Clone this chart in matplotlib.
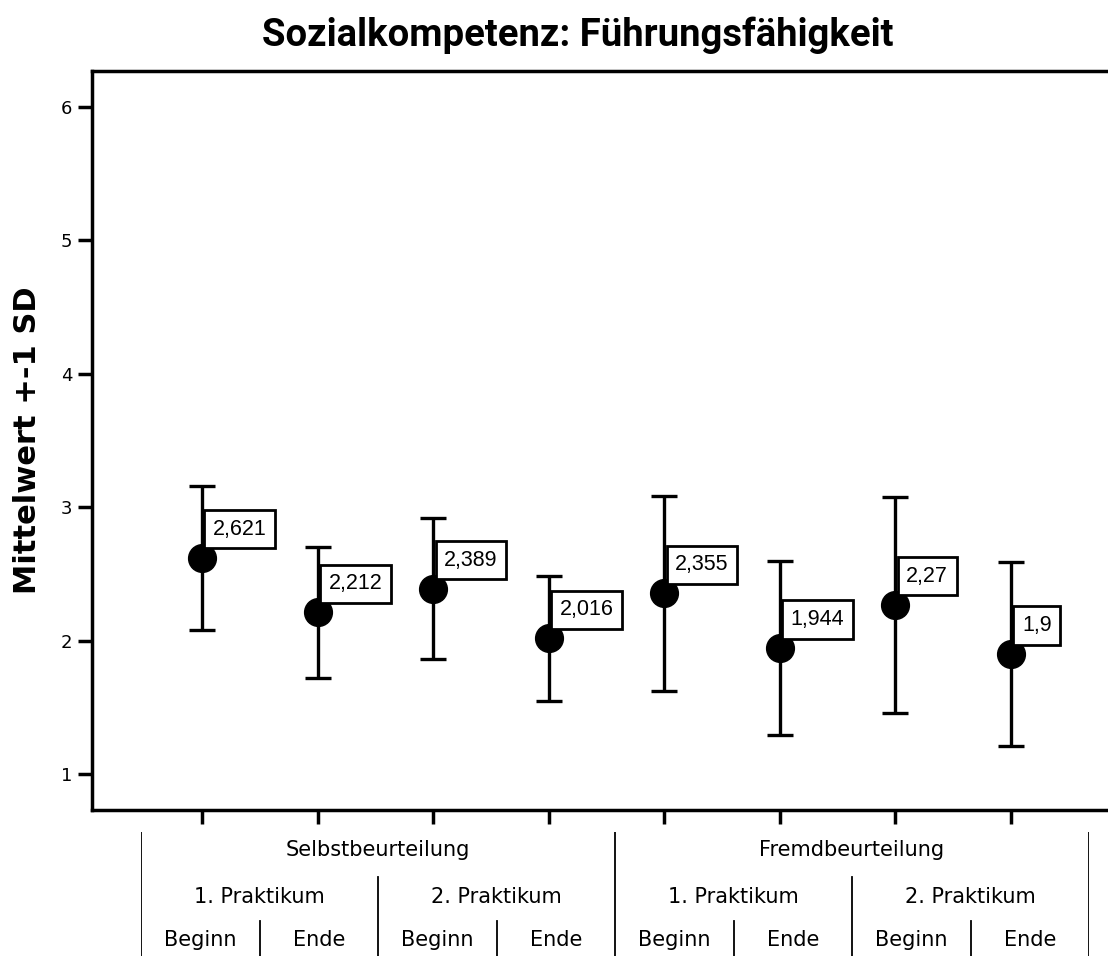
import matplotlib
matplotlib.use('Agg')
import matplotlib.pyplot as plt
import numpy as np

# data
means = [2.621, 2.212, 2.389, 2.016, 2.355, 1.944, 2.27, 1.9]
sds = [0.54, 0.49, 0.53, 0.47, 0.73, 0.65, 0.81, 0.69]
mean_labels = ['2,621', '2,212', '2,389', '2,016', '2,355', '1,944', '2,27', '1,9']
raters = ['Selbstbeurteilung', 'Fremdbeurteilung']
phases = ['1. Praktikum', '2. Praktikum']
times = ['Beginn', 'Ende']
yticks = [1, 2, 3, 4, 5, 6]

W, H = 1108, 956
fig = plt.figure(figsize=(W / 100, H / 100), dpi=100)

# main axes
ax = fig.add_axes([92 / W, 1 - 810 / H, 1 - 92 / W, (810 - 71) / H])
x = np.arange(1, len(means) + 1)
ax.errorbar(x, means, yerr=sds, fmt='o', color='black', ms=20,
            elinewidth=2.4, capsize=9.7, capthick=2.4, zorder=2)

for xi, m, lab in zip(x, means, mean_labels):
    ax.annotate(lab, xy=(xi, m), xytext=(11, 18), textcoords='offset pixels',
                ha='left', va='bottom', fontsize=15.5, family=['Liberation Sans', 'DejaVu Sans'],
                bbox=dict(boxstyle='square,pad=0.4', fc='white', ec='black', lw=2),
                zorder=5)

ax.set_xlim(0.048, 8.84)
ax.set_ylim(0.73, 6.27)
ax.set_xticks(x)
ax.set_xticklabels([])
ax.set_yticks(yticks)
ax.set_yticklabels([str(t) for t in yticks], fontsize=13)
ax.tick_params(axis='both', direction='out', length=10, width=2.5, pad=4)
for s in ['left', 'top', 'bottom']:
    ax.spines[s].set_linewidth(2.5)
ax.spines['right'].set_visible(False)
ax.set_ylabel('Mittelwert +-1 SD', fontsize=22, fontweight='bold', labelpad=14)

fig.text(578 / W, 1 - 35 / H, 'Sozialkompetenz: Führungsfähigkeit',
         ha='center', va='center', fontsize=27.5, fontweight='bold',
         family=['Roboto', 'DejaVu Sans'])

# category table under the axis
tab = fig.add_axes([141 / W, 0, 948 / W, (956 - 832) / H])
tab.set_xlim(0, 8)
tab.set_ylim(0, 124)
tab.axis('off')
for b in [0, 4, 8]:
    tab.plot([b, b], [0, 124], color='black', lw=1.3)
for b in [2, 6]:
    tab.plot([b, b], [0, 79], color='black', lw=1.3)
for b in [1, 3, 5, 7]:
    tab.plot([b, b], [0, 35], color='black', lw=1.3)

for i, r in enumerate(raters):
    tab.text(i * 4 + 2, 100, r, ha='center', va='baseline', fontsize=15)
    for j, p in enumerate(phases):
        tab.text(i * 4 + j * 2 + 1, 53, p, ha='center', va='baseline', fontsize=15)
        for k, t in enumerate(times):
            tab.text(i * 4 + j * 2 + k + 0.5, 10, t, ha='center', va='baseline', fontsize=15)

fig.savefig('out.png', dpi=100)
